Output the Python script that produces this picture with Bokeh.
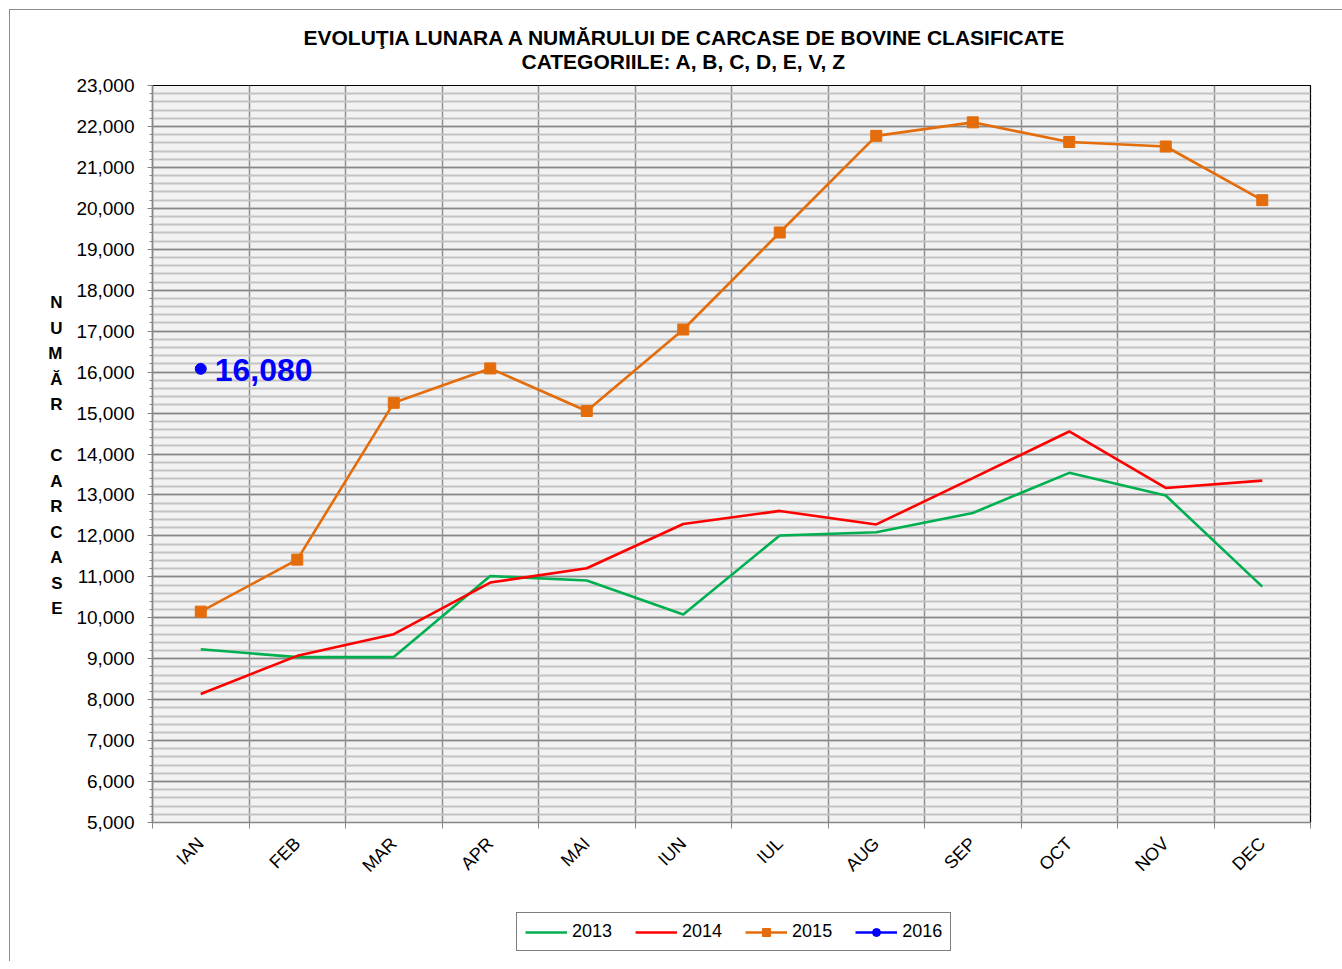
import math
from bokeh.plotting import figure
from bokeh.layouts import column
from bokeh.models import (Range1d, FixedTicker, SingleIntervalTicker, NumeralTickFormatter,
                          Label, Legend, LegendItem, Title, LinearAxis)
from bokeh.embed import file_html
from bokeh.resources import INLINE

months = ["IAN", "FEB", "MAR", "APR", "MAI", "IUN", "IUL", "AUG", "SEP", "OCT", "NOV", "DEC"]
v2013 = [9230, 9040, 9040, 11020, 10910, 10080, 12010, 12090, 12560, 13540, 12985, 10760]
v2014 = [8140, 9070, 9600, 10860, 11210, 12290, 12610, 12280, 13410, 14550, 13170, 13350]
v2015 = [10150, 11420, 15250, 16090, 15050, 17040, 19410, 21770, 22100, 21620, 21510, 20200]
months2016 = ["IAN"]
v2016 = [16080]

title1 = "EVOLUŢIA LUNARA  A NUMĂRULUI DE CARCASE DE BOVINE  CLASIFICATE"
title2 = "CATEGORIILE: A, B, C, D, E, V, Z"
ylabel_letters = ["N", "U", "M", "Ă", "R", "", "C", "A", "R", "C", "A", "S", "E"]
series_names = ["2013", "2014", "2015", "2016"]

FONT = "Liberation Sans"
C13, C14, C15, C16 = "#00B050", "#FF0000", "#E46C0A", "#0000FF"

xpos = {m: i + 0.5 for i, m in enumerate(months)}
x_all = [xpos[m] for m in months]
x16 = [xpos[m] for m in months2016]

YMIN, YMAX = 5000, 23000
FRAME_H = 737
W = 1332

p = figure(width=W, height=890, output_backend="svg", toolbar_location=None,
           x_range=Range1d(0, len(months)), y_range=Range1d(YMIN, YMAX),
           min_border_left=142, min_border_right=32, min_border_top=75, min_border_bottom=78,
           background_fill_color="#F2F2F2", border_fill_color="white")
p.outline_line_color = "black"
p.outline_line_width = 1.2

# y axis
p.yaxis.ticker = SingleIntervalTicker(interval=1000, num_minor_ticks=5)
p.yaxis.formatter = NumeralTickFormatter(format="0,0")
p.yaxis.major_label_text_font = FONT
p.yaxis.major_label_text_font_size = "19px"
p.yaxis.major_label_text_color = "black"
p.yaxis.axis_line_color = "#868686"
p.yaxis.axis_line_width = 1.5
p.yaxis.major_tick_line_color = "#868686"
p.yaxis.minor_tick_line_color = "#868686"
p.yaxis.major_tick_in = 0
p.yaxis.major_tick_out = 5
p.yaxis.minor_tick_in = 0
p.yaxis.minor_tick_out = 3
p.yaxis.major_label_standoff = 13

# vertical stacked axis title, drawn as labels of an extra left axis
letter_ticks = []
letter_map = {}
for i, ch in enumerate(ylabel_letters):
    if not ch:
        continue
    ypix_from_top = 217 + i * 25.5   # offset below the frame top, pixels
    val = YMAX - ypix_from_top * (YMAX - YMIN) / FRAME_H
    letter_ticks.append(val)
    letter_map[val] = ch
lab_axis = LinearAxis(ticker=FixedTicker(ticks=letter_ticks), major_label_overrides=letter_map)
lab_axis.axis_line_color = None
lab_axis.major_tick_line_color = None
lab_axis.minor_tick_line_color = None
lab_axis.major_tick_out = 0
lab_axis.major_tick_in = 0
lab_axis.major_label_text_font = FONT
lab_axis.major_label_text_font_size = "17px"
lab_axis.major_label_text_font_style = "bold"
lab_axis.major_label_text_color = "black"
lab_axis.major_label_standoff = 11
p.add_layout(lab_axis, "left")

# x axis
p.xaxis.ticker = FixedTicker(ticks=x_all, minor_ticks=list(range(len(months) + 1)))
p.xaxis.major_label_overrides = {xpos[m]: m for m in months}
p.xaxis.major_label_orientation = math.pi / 4
p.xaxis.major_label_text_font = FONT
p.xaxis.major_label_text_font_size = "18px"
p.xaxis.major_label_text_color = "black"
p.xaxis.axis_line_color = "#868686"
p.xaxis.axis_line_width = 1.5
p.xaxis.major_tick_line_color = None
p.xaxis.minor_tick_line_color = "#868686"
p.xaxis.minor_tick_in = 0
p.xaxis.minor_tick_out = 6
p.xaxis.major_label_standoff = 12

# grids
p.ygrid.grid_line_color = "#888888"
p.ygrid.grid_line_width = 1.3
p.ygrid.minor_grid_line_color = "#C3C3C3"
p.ygrid.minor_grid_line_width = 1.8
p.xgrid.ticker = FixedTicker(ticks=list(range(len(months) + 1)))
p.xgrid.grid_line_color = "#8f8f8f"
p.xgrid.grid_line_width = 1.5

# series
p.line(x_all, v2013, line_color=C13, line_width=2.6)
p.line(x_all, v2014, line_color=C14, line_width=2.6)
p.line(x_all, v2015, line_color=C15, line_width=2.6)
p.scatter(x_all, v2015, marker="square", size=11, fill_color=C15, line_color=C15)
p.line(x16, v2016, line_color=C16, line_width=2.6)
p.scatter(x16, v2016, marker="circle", size=11, fill_color=C16, line_color=C16)

# data label for 2016
p.add_layout(Label(x=x16[0], y=v2016[0], text=f"{v2016[0]:,}", x_offset=14, y_offset=-1,
                   text_font=FONT, text_font_size="32px", text_font_style="bold",
                   text_color=C16, text_baseline="middle", text_align="left"))

# titles (second line added first so it sits closest to the frame)
t2 = Title(text=title2, align="left", offset=369, text_font=FONT, text_color="black",
           text_font_size="21px", text_font_style="bold", standoff=25)
t1 = Title(text=title1, align="left", offset=151, text_font=FONT, text_color="black",
           text_font_size="21px", text_font_style="bold", standoff=0)
try:
    t1.standoff = -26
except Exception:
    pass
p.add_layout(t2, "above")
p.add_layout(t1, "above")

# legend strip below the chart (series repeated here only to feed the legend; they lie
# outside this strip's visible range)
pl = figure(width=W, height=61, output_backend="svg", toolbar_location=None,
            x_axis_location=None, y_axis_location=None, min_border=0,
            x_range=Range1d(-100, -99), y_range=Range1d(-100, -99),
            background_fill_color="white", border_fill_color="white")
pl.outline_line_color = None
pl.grid.visible = False
l13 = pl.line(x_all, v2013, line_color=C13, line_width=2.6)
l14 = pl.line(x_all, v2014, line_color=C14, line_width=2.6)
l15 = pl.line(x_all, v2015, line_color=C15, line_width=2.6)
l15m = pl.scatter(x_all, v2015, marker="square", size=11, fill_color=C15, line_color=C15)
l16 = pl.line(x16, v2016, line_color=C16, line_width=2.6)
l16m = pl.scatter(x16, v2016, marker="circle", size=11, fill_color=C16, line_color=C16)

legend = Legend(items=[
    LegendItem(label=series_names[0], renderers=[l13]),
    LegendItem(label=series_names[1], renderers=[l14]),
    LegendItem(label=series_names[2], renderers=[l15, l15m]),
    LegendItem(label=series_names[3], renderers=[l16, l16m]),
], orientation="horizontal", location=(364, 10))
legend.label_text_font = FONT
legend.label_text_font_size = "18px"
legend.label_text_color = "black"
legend.border_line_color = "black"
legend.border_line_width = 1.2
legend.background_fill_color = "white"
legend.background_fill_alpha = 1
legend.glyph_width = 42
legend.glyph_height = 20
legend.label_standoff = 5
legend.spacing = 23
legend.padding = 8
legend.margin = 0
pl.add_layout(legend, "center")

layout = column(p, pl, spacing=0)
layout.styles = {"border-left": "1px solid #8c8c8c", "border-top": "1px solid #8c8c8c",
                 "margin-left": "9px", "margin-top": "9px"}

open("out.html", "w").write(file_html(layout, INLINE))
